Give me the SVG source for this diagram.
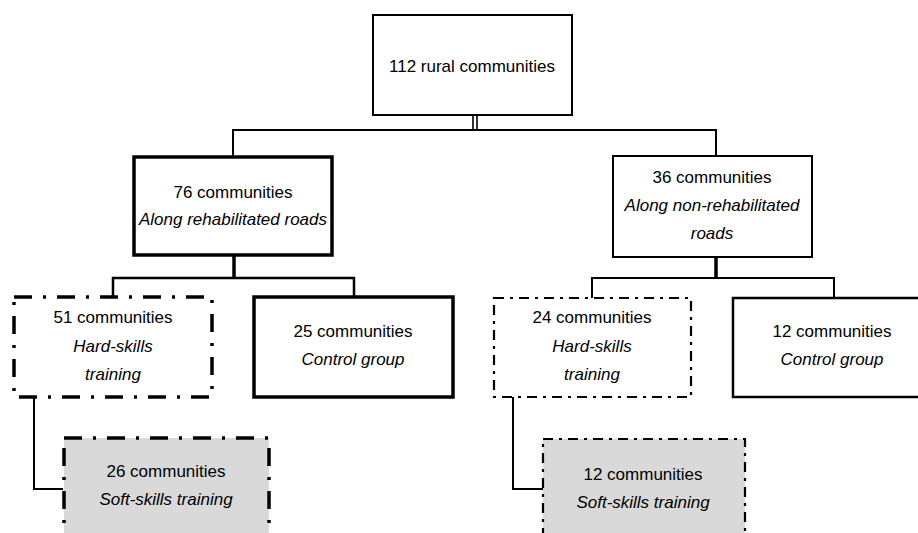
<svg xmlns="http://www.w3.org/2000/svg" width="918" height="533" viewBox="0 0 918 533">
<style>
text{font-family:"Liberation Sans",Arial,sans-serif;font-size:17px;fill:#000;text-anchor:middle}
.i{font-style:italic}
.box{fill:#fff;stroke:#000}
.thin{stroke-width:2}
.thick{stroke-width:3.5}
.dd{stroke-width:3.5;stroke-dasharray:18 11 3 11}
.ds{stroke-width:2.2;stroke-dasharray:10 6 3 6}
.grey{fill:#d9d9d9}
.c{fill:none;stroke:#000}
</style>
<g id="connectors">
<line class="c" x1="473" y1="115" x2="473" y2="130" stroke-width="1.6"/>
<line class="c" x1="477" y1="115" x2="477" y2="130" stroke-width="1.6"/>
<polyline class="c" points="233,157 233,130 716,130 716,156" stroke-width="2"/>
<line class="c" x1="234" y1="255" x2="234" y2="278" stroke-width="3.5"/>
<polyline class="c" points="113,297 113,278 354,278 354,297" stroke-width="2.5"/>
<polyline class="c" points="34,397 34,489 63,489" stroke-width="2"/>
<line class="c" x1="716" y1="257" x2="716" y2="278" stroke-width="3.5"/>
<polyline class="c" points="592,298 592,278 834,278 834,298" stroke-width="2"/>
<polyline class="c" points="513,397 513,489 543,489" stroke-width="2"/>
</g>
<g id="n112">
<rect class="box thin" x="373" y="15" width="199" height="100"/>
<text x="472" y="72">112 rural communities</text>
</g>
<g id="n76">
<rect class="box thick" x="134" y="157" width="198" height="98"/>
<text x="233" y="198">76 communities</text>
<text class="i" x="233" y="225">Along rehabilitated roads</text>
</g>
<g id="n36">
<rect class="box thin" x="613" y="156" width="199" height="101"/>
<text x="712" y="183">36 communities</text>
<text class="i" x="712" y="211">Along non-rehabilitated</text>
<text class="i" x="712" y="239">roads</text>
</g>
<g id="n51">
<rect class="box dd" x="14" y="297" width="198" height="100"/>
<text x="113" y="323">51 communities</text>
<text class="i" x="113" y="352">Hard-skills</text>
<text class="i" x="113" y="380">training</text>
</g>
<g id="n25">
<rect class="box thick" x="254" y="297" width="199" height="100"/>
<text x="353" y="337">25 communities</text>
<text class="i" x="353" y="365">Control group</text>
</g>
<g id="n26">
<rect class="box grey dd" x="64" y="438" width="205" height="110"/>
<text x="166" y="477">26 communities</text>
<text class="i" x="166" y="505">Soft-skills training</text>
</g>
<g id="n24">
<rect class="box ds" x="494" y="298" width="197" height="99"/>
<text x="592" y="323">24 communities</text>
<text class="i" x="592" y="352">Hard-skills</text>
<text class="i" x="592" y="380">training</text>
</g>
<g id="n12c">
<rect class="box" stroke-width="2.5" x="733" y="298" width="200" height="99"/>
<text x="832" y="337">12 communities</text>
<text class="i" x="832" y="365">Control group</text>
</g>
<g id="n12s">
<rect class="box grey ds" x="543" y="439" width="202" height="110"/>
<text x="643" y="480">12 communities</text>
<text class="i" x="643" y="508">Soft-skills training</text>
</g>
</svg>
